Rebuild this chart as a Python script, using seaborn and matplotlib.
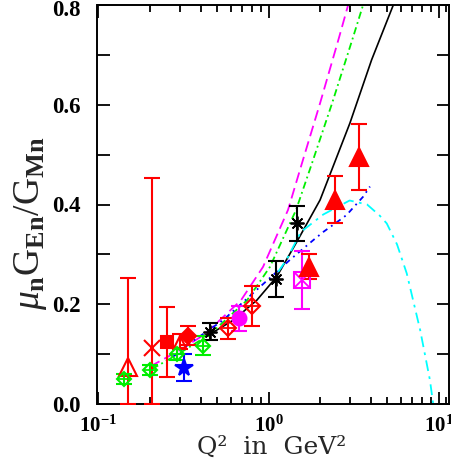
import numpy as np
import pandas as pd
import matplotlib
matplotlib.use("Agg")
import matplotlib.pyplot as plt
from matplotlib.ticker import NullFormatter
import matplotlib.transforms as mtransforms
import seaborn as sns

# ---------------- data ----------------
# theory curves (Q2 in GeV^2, mu_n G_En/G_Mn)
black_q2 = [0.41, 0.495, 0.62, 0.853, 1.117, 1.466, 2.01, 3.01, 4.04, 5.42, 6.0]
black_r = [0.136, 0.148, 0.168, 0.208, 0.255, 0.325, 0.409, 0.563, 0.690, 0.800, 0.85]

magenta_q2 = [0.201, 0.301, 0.423, 0.689, 0.929, 1.302, 1.574, 2.01, 2.60, 2.94, 3.1]
magenta_r = [0.075, 0.108, 0.140, 0.208, 0.275, 0.389, 0.483, 0.603, 0.735, 0.800, 0.83]

green_q2 = [0.206, 0.294, 0.453, 0.748, 1.02, 1.452, 1.803, 2.366, 3.14, 3.60, 3.8]
green_r = [0.070, 0.100, 0.140, 0.208, 0.275, 0.389, 0.483, 0.603, 0.735, 0.800, 0.83]

blue_q2 = [0.275, 0.345, 0.54, 0.853, 1.337, 1.84, 2.10, 2.63, 2.88, 3.61, 3.95]
blue_r = [0.095, 0.122, 0.168, 0.229, 0.289, 0.329, 0.345, 0.369, 0.379, 0.416, 0.436]

cyan_q2 = [1.14, 1.28, 1.55, 2.10, 3.00, 3.80, 4.50, 4.96, 5.70, 6.50, 7.80, 8.90, 9.30]
cyan_r = [0.265, 0.290, 0.345, 0.380, 0.408, 0.400, 0.378, 0.362, 0.320, 0.262, 0.148, 0.048, 0.0]

# data sets
tri_open_q2 = [0.149]; tri_open_r = [0.075]; tri_open_lo = [0.075]; tri_open_hi = [0.178]
cross_q2 = [0.207]; cross_r = [0.113]; cross_lo = [0.113]; cross_hi = [0.340]
square_q2 = [0.254]; square_r = [0.125]; square_err = [0.070]
tri_small_q2 = [0.30]; tri_small_r = [0.125]; tri_small_err = [0.015]
diam_fill_q2 = [0.335]; diam_fill_r = [0.137]; diam_fill_err = [0.019]
green_pts_q2 = [0.141, 0.200, 0.291, 0.414]
green_pts_r = [0.050, 0.068, 0.100, 0.117]
green_pts_err = [0.010, 0.010, 0.012, 0.019]
star_q2 = [0.318]; star_r = [0.073]; star_err = [0.027]
ast_q2 = [0.45, 1.10, 1.47]; ast_r = [0.145, 0.250, 0.362]; ast_err = [0.017, 0.036, 0.035]
circ_q2 = [0.673]; circ_r = [0.172]; circ_err = [0.025]
red_diam_q2 = [0.58, 0.796]; red_diam_r = [0.152, 0.196]; red_diam_err = [0.021, 0.040]
msq_q2 = [1.567]; msq_r = [0.249]; msq_err = [0.058]
tri_fill_q2 = [1.74, 2.46, 3.42]; tri_fill_r = [0.275, 0.410, 0.495]; tri_fill_err = [0.025, 0.048, 0.066]

xtick_vals = [0.1, 1, 10]
xtick_labels = [r"$\mathbf{10^{-1}}$", r"$\mathbf{10^{0}}$", r"$\mathbf{10^{1}}$"]
ytick_vals = [0.0, 0.2, 0.4, 0.6, 0.8]
ytick_labels = ["0.0", "0.2", "0.4", "0.6", "0.8"]

# ---------------- style ----------------
sns.set_theme(style="ticks")
plt.rcParams["font.family"] = ["Liberation Serif", "DejaVu Serif"]
plt.rcParams["mathtext.fontset"] = "custom"
plt.rcParams["mathtext.rm"] = "Liberation Serif"
plt.rcParams["mathtext.it"] = "Liberation Serif:italic"
plt.rcParams["mathtext.bf"] = "Liberation Serif:bold"

W, H = 452, 463
fig = plt.figure(figsize=(W / 100, H / 100), dpi=100)
ax = fig.add_axes([97.5 / W, (H - 404) / H, (449.5 - 97.5) / W, (404 - 5) / H])
ax.set_xscale("log")

# ---------------- curves ----------------
def curve(xs, ys, color, ls, lw=1.2):
    df = pd.DataFrame({"q2": xs, "r": ys})
    sns.lineplot(data=df, x="q2", y="r", ax=ax, color=color, linestyle=ls,
                 linewidth=lw, estimator=None, sort=True, zorder=2)

curve(black_q2, black_r, "black", "-", 1.2)
curve(magenta_q2, magenta_r, "#ff00ff", (0, (6, 3)), 1.3)
curve(green_q2, green_r, "#00ee00", (0, (4, 2, 1, 2)), 1.3)
curve(blue_q2, blue_r, "#0000ff", (0, (3, 2.5, 1, 2.5)), 1.3)
curve(cyan_q2, cyan_r, "#00ffff", (0, (6, 3, 1.5, 3)), 1.3)

# ---------------- points ----------------
EW = 1.5
CAP = 6

def pts(xs, ys, err, color, marker, ms, filled, mew=1.5, z=4):
    ax.errorbar(xs, ys, yerr=err, fmt="none", ecolor=color, elinewidth=EW,
                capsize=CAP, capthick=EW, zorder=3)
    ax.plot(xs, ys, linestyle="none", marker=marker, ms=ms,
            mfc=color if filled else "none", mec=color, mew=mew, zorder=z)

RED = "#ff0000"
GRN = "#00ee00"
MAG = "#ff00ff"
BLU = "#0000ff"

pts(tri_open_q2, tri_open_r, [tri_open_lo, tri_open_hi], RED, "^", 12.5, False)
pts(cross_q2, cross_r, [cross_lo, cross_hi], RED, "x", 12, False)
pts(square_q2, square_r, square_err, RED, "s", 9, True)
pts(tri_small_q2, tri_small_r, tri_small_err, RED, "^", 8, False)
pts(diam_fill_q2, diam_fill_r, diam_fill_err, RED, "D", 8, True)
pts(green_pts_q2, green_pts_r, green_pts_err, GRN, "D", 6.8, False)
ax.plot(green_pts_q2, green_pts_r, linestyle="none", marker="+", ms=9.6, mec=GRN, mew=1.3, zorder=4)
pts(star_q2, star_r, star_err, BLU, "*", 13, True)
pts(ast_q2, ast_r, ast_err, "black", (8, 2, 0), 10, False, mew=1.3)
pts(circ_q2, circ_r, circ_err, MAG, "o", 10, True)
pts(red_diam_q2, red_diam_r, red_diam_err, RED, "D", 8, False)
ax.plot(red_diam_q2, red_diam_r, linestyle="none", marker="+", ms=11.3, mec=RED, mew=1.3, zorder=4)
pts(msq_q2, msq_r, msq_err, MAG, "s", 11.5, False)
ax.plot(msq_q2, msq_r, linestyle="none", marker="x", ms=11.5, mec=MAG, mew=1.3, zorder=4)
pts(tri_fill_q2, tri_fill_r, tri_fill_err, RED, "^", 12.7, True)

# ---------------- axes ----------------
ax.set_xlim(0.0987, 11.6)
ax.set_ylim(0.0, 0.8)
ax.set_xticks(xtick_vals)
ax.set_xticklabels(xtick_labels)
ax.set_xticks([m * d for d in [0.1, 1] for m in range(2, 10)] + [11], minor=True)
ax.xaxis.set_minor_formatter(NullFormatter())
ax.set_yticks(ytick_vals)
ax.set_yticklabels(ytick_labels, fontweight="bold")
ax.set_yticks([0.1, 0.3, 0.5, 0.7], minor=True)
ax.yaxis.set_minor_formatter(NullFormatter())

for sp in ax.spines.values():
    sp.set_linewidth(1.4)
    sp.set_color("black")
    sp.set_visible(True)

ax.tick_params(axis="both", which="both", direction="in", top=True, right=True,
               colors="black", width=1.3)
ax.tick_params(axis="x", which="major", length=9, labelsize=15, pad=8)
ax.tick_params(axis="x", which="minor", length=5)
ax.tick_params(axis="y", which="both", length=9, labelsize=16.5, pad=12)

# nudge the top y tick label so it stays inside the figure
top_lab = ax.get_yticklabels()[-1]
top_lab.set_transform(top_lab.get_transform() +
                      mtransforms.ScaledTranslation(0, -3 / 100, fig.dpi_scale_trans))

ax.set_xlabel("Q²  in  GeV²", fontsize=18, family=["DejaVu Serif"])
ax.xaxis.set_label_coords((272 - 97.5) / 352, -(436 - 404) / 399)
ax.set_ylabel(r"$\mu_{\mathbf{n}}\mathrm{G}_{\mathbf{En}}/\mathrm{G}_{\mathbf{Mn}}$",
              fontsize=27)
ax.yaxis.set_label_coords(-(97.5 - 49) / 352, (404 - 223) / 399)
ax.grid(False)
ax.set_facecolor("white")
fig.patch.set_facecolor("white")

fig.savefig("out.png", dpi=100)
